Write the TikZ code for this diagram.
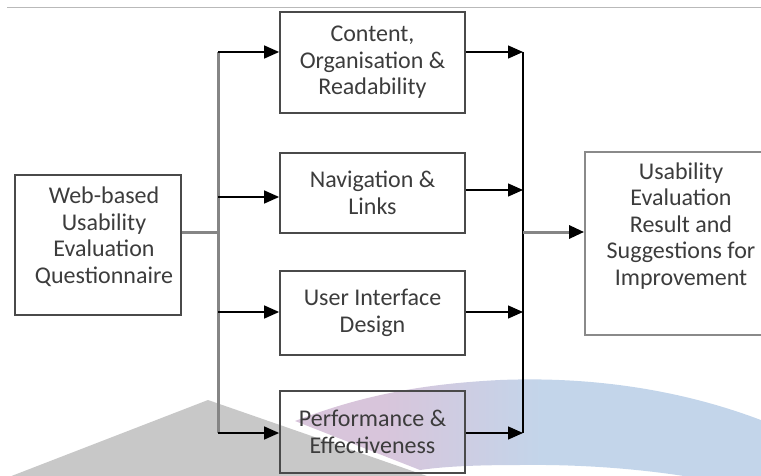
\documentclass[tikz,border=0pt]{standalone}
\usepackage{fontspec}
\setmainfont{Carlito}
\usetikzlibrary{arrows.meta}
\definecolor{boxc}{HTML}{4A4A4A}
\definecolor{resc}{HTML}{8A8A8A}
\definecolor{txt}{HTML}{3C3C3C}
\definecolor{trunkc}{HTML}{858585}
\definecolor{lav}{HTML}{D8C5DB}
\definecolor{blu}{HTML}{C3D5EA}
\definecolor{tri}{HTML}{C8C8C8}
\pgfdeclarehorizontalshading{swoosh}{100bp}{color(0bp)=(lav); color(34bp)=(lav); color(50bp)=(blu); color(100bp)=(blu)}
\begin{document}
\begin{tikzpicture}[x=1pt,y=-1pt,
  box/.style={draw=boxc, line width=1.8pt, align=center, inner sep=0pt, text=txt,
    font=\fontsize{24}{26.5}\selectfont},
  lbl/.style={align=center, inner sep=0pt, text=txt, font=\fontsize{24}{26.5}\selectfont},
  feed/.style={draw=black, line width=1.4pt, -{Triangle[length=15pt,width=13pt,color=black]}},
  trunkg/.style={draw=trunkc, line width=3pt},
]
\useasboundingbox (0,0) rectangle (761,476);
\clip (0,0) rectangle (761,476);
% background decoration
\fill[tri] (208,400) -- (-4,482) -- (444,482) -- cycle;
\shade[shading=swoosh] (295,421) .. controls (360,396) and (420,384) .. (500,380)
  .. controls (600,376) and (700,392) .. (790,432) -- (790,500)
  .. controls (700,472) and (600,464) .. (520,465)
  .. controls (470,465) and (440,467) .. (420,470) -- cycle;
\draw[gray!55, line width=1pt] (7,8) -- (761,8);
% boxes
\node[box, minimum width=166pt, minimum height=140pt] (src) at (98,245) {};
\node[lbl] (srct) at (104,237) {Web-based\\Usability\\Evaluation\\Questionnaire};
\node[box, minimum width=185pt, minimum height=101pt] (b1) at (372.5,62.5) {Content,\\Organisation \&\\Readability};
\node[box, minimum width=185pt, minimum height=80pt] (b2) at (372.5,193) {Navigation \&\\Links};
\node[box, minimum width=185pt, minimum height=84pt] (b3) at (372.5,313) {User Interface\\Design};
\node[box, minimum width=185pt, minimum height=82pt] (b4) at (372.5,432) {Performance \&\\Effectiveness};
\node[box, draw=resc, minimum width=195pt, minimum height=183pt] (res) at (682.5,243.5) {};
\node[lbl] (rest) at (681,226) {Usability\\Evaluation\\Result and\\Suggestions for\\Improvement};
% junction coordinates
\coordinate (jl) at (218,232);
\coordinate (l1) at (218,52);
\coordinate (l2) at (218,197);
\coordinate (l3) at (218,312);
\coordinate (l4) at (218,433);
\coordinate (jr) at (523,232);
\coordinate (r1) at (523,52);
\coordinate (r2) at (523,190);
\coordinate (r3) at (523,312);
\coordinate (r4) at (523,433);
% left trunk
\draw[trunkg] (l1) -- (l4);
\draw[trunkg] (src.east |- jl) -- (jl);
\draw[feed] (l1) -- (b1.west |- l1);
\draw[feed] (l2) -- (b2.west |- l2);
\draw[feed] (l3) -- (b3.west |- l3);
\draw[feed] (l4) -- (b4.west |- l4);
% right trunk
\draw[black, line width=1.8pt] (r1) -- (r4);
\draw[feed] (b1.east |- r1) -- (r1);
\draw[feed] (b2.east |- r2) -- (r2);
\draw[feed] (b3.east |- r3) -- (r3);
\draw[feed] (b4.east |- r4) -- (r4);
\draw[feed, draw=trunkc, line width=3pt] (jr) -- (res.west |- jr);
\end{tikzpicture}
\end{document}
